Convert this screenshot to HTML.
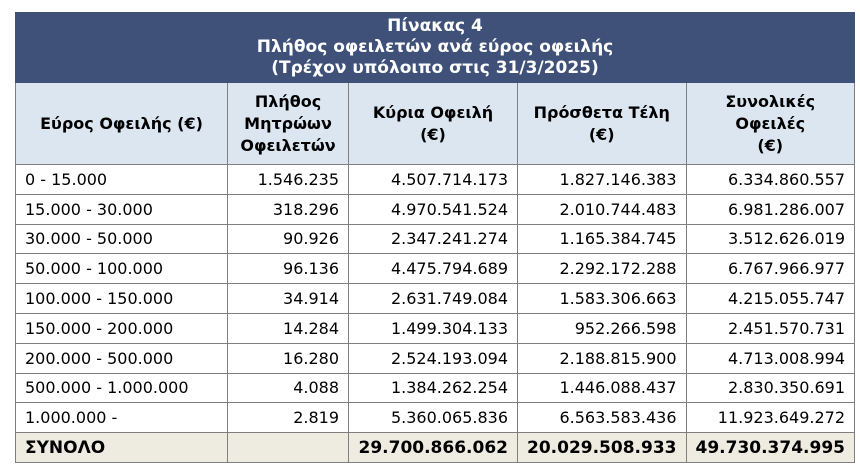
<!DOCTYPE html>
<html><head><meta charset="utf-8"><style>
body{margin:0;background:#fff;width:860px;height:475px;overflow:hidden}
table{position:absolute;left:15px;top:12px;border-collapse:collapse;font-family:"DejaVu Sans","Liberation Sans",sans-serif;font-size:16px;color:#000}
td,th{border:1.5px solid #7f7f7f;padding:0 9px;height:28.8px;white-space:nowrap}
td{text-align:right}
td:first-child{text-align:left}
.title th{background:#3f5079;color:#fff;height:69px;font-size:17px;line-height:21px;border-color:#3f5079;font-weight:bold}
.hd th{background:#dce6f1;height:81px;font-size:16px;line-height:22px}
.tot td{background:#eeece1;font-weight:bold;font-size:17px}
</style></head><body>
<table>
<colgroup><col style="width:212px"><col style="width:121px"><col style="width:169px"><col style="width:168px"><col style="width:167px"></colgroup>
<tr class="title"><th colspan="5">Πίνακας 4<br>Πλήθος οφειλετών ανά εύρος οφειλής<br>(Τρέχον υπόλοιπο στις 31/3/2025)</th></tr>
<tr class="hd"><th>Εύρος Οφειλής (€)</th><th>Πλήθος<br>Μητρώων<br>Οφειλετών</th><th>Κύρια Οφειλή<br>(€)</th><th>Πρόσθετα Τέλη<br>(€)</th><th>Συνολικές<br>Οφειλές<br>(€)</th></tr>
<tr><td>0 - 15.000</td><td>1.546.235</td><td>4.507.714.173</td><td>1.827.146.383</td><td>6.334.860.557</td></tr>
<tr><td>15.000 - 30.000</td><td>318.296</td><td>4.970.541.524</td><td>2.010.744.483</td><td>6.981.286.007</td></tr>
<tr><td>30.000 - 50.000</td><td>90.926</td><td>2.347.241.274</td><td>1.165.384.745</td><td>3.512.626.019</td></tr>
<tr><td>50.000 - 100.000</td><td>96.136</td><td>4.475.794.689</td><td>2.292.172.288</td><td>6.767.966.977</td></tr>
<tr><td>100.000 - 150.000</td><td>34.914</td><td>2.631.749.084</td><td>1.583.306.663</td><td>4.215.055.747</td></tr>
<tr><td>150.000 - 200.000</td><td>14.284</td><td>1.499.304.133</td><td>952.266.598</td><td>2.451.570.731</td></tr>
<tr><td>200.000 - 500.000</td><td>16.280</td><td>2.524.193.094</td><td>2.188.815.900</td><td>4.713.008.994</td></tr>
<tr><td>500.000 - 1.000.000</td><td>4.088</td><td>1.384.262.254</td><td>1.446.088.437</td><td>2.830.350.691</td></tr>
<tr><td>1.000.000 -</td><td>2.819</td><td>5.360.065.836</td><td>6.563.583.436</td><td>11.923.649.272</td></tr>
<tr class="tot"><td>ΣΥΝΟΛΟ</td><td></td><td>29.700.866.062</td><td>20.029.508.933</td><td>49.730.374.995</td></tr>
</table>
</body></html>
